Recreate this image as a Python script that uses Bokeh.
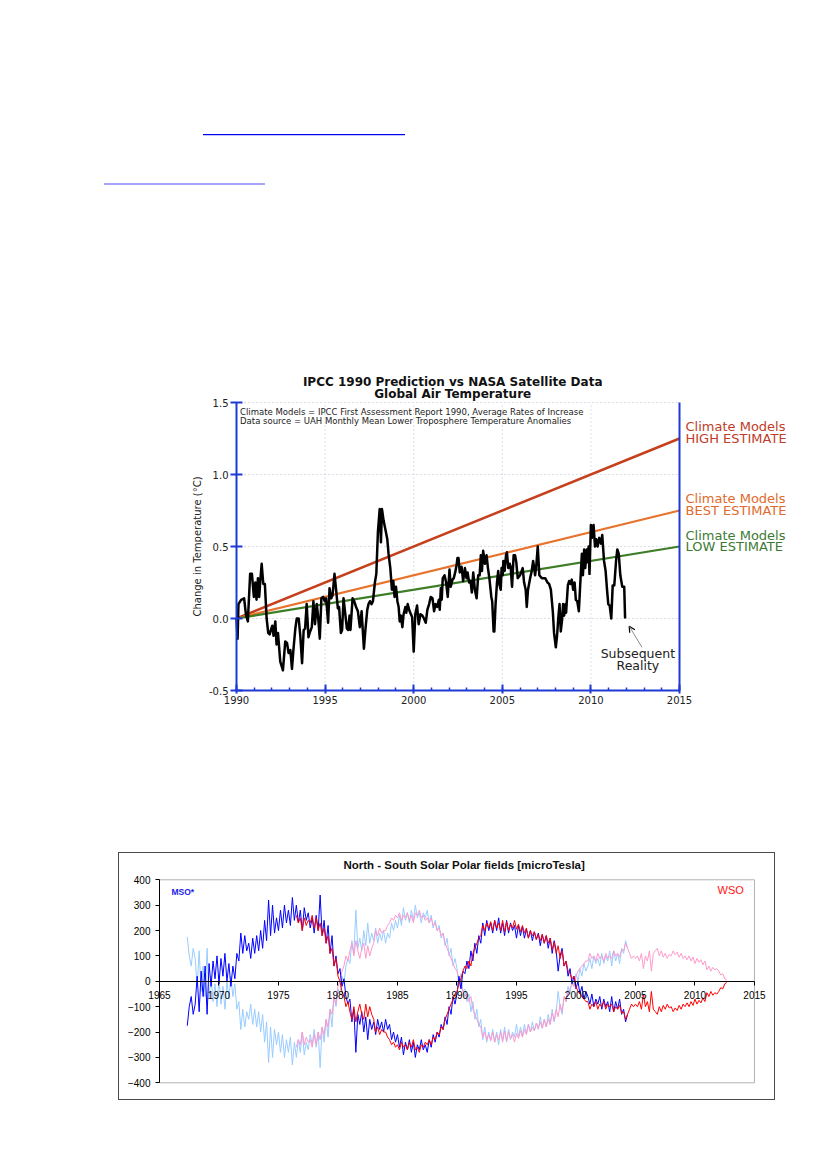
import numpy as np
from bokeh.plotting import figure
from bokeh.models import (Label, Arrow, OpenHead, FixedTicker, PrintfTickFormatter,
                          Div, Range1d, LinearAxis, Spacer)
from bokeh.layouts import column, row
from bokeh.embed import file_html
from bokeh.resources import INLINE

# ---------------- Chart 1 data: UAH lower troposphere anomalies ----------------
uah_year = [
    1990.00, 1990.06, 1990.11, 1990.26, 1990.43, 1990.53, 1990.64, 1990.77, 1990.87, 1990.98,
    1991.06, 1991.13, 1991.21, 1991.28, 1991.34, 1991.42, 1991.51, 1991.60, 1991.70, 1991.79,
    1991.87, 1991.94, 1992.02, 1992.09, 1992.19, 1992.26, 1992.34, 1992.47, 1992.62, 1992.75,
    1992.85, 1992.94, 1993.04, 1993.13, 1993.21, 1993.32, 1993.40, 1993.51, 1993.60, 1993.70,
    1993.79, 1993.87, 1993.96, 1994.06, 1994.13, 1994.25, 1994.34, 1994.43, 1994.53, 1994.60,
    1994.70, 1994.79, 1994.89, 1994.98, 1995.06, 1995.17, 1995.25, 1995.34, 1995.42, 1995.53,
    1995.62, 1995.72, 1995.79, 1995.89, 1995.96, 1996.04, 1996.13, 1996.23, 1996.30, 1996.38,
    1996.43, 1996.55, 1996.64, 1996.75, 1996.85, 1996.96, 1997.06, 1997.19, 1997.28, 1997.38,
    1997.45, 1997.53, 1997.62, 1997.70, 1997.81, 1997.89, 1997.98, 1998.08, 1998.15, 1998.21,
    1998.30, 1998.40, 1998.51, 1998.58, 1998.68, 1998.77, 1998.85, 1998.92, 1999.00, 1999.08,
    1999.15, 1999.21, 1999.28, 1999.36, 1999.43, 1999.53, 1999.58, 1999.66, 1999.77, 1999.91,
    2000.00, 2000.09, 2000.19, 2000.28, 2000.38, 2000.49, 2000.58, 2000.68, 2000.77, 2000.87,
    2000.96, 2001.06, 2001.15, 2001.23, 2001.32, 2001.42, 2001.47, 2001.53, 2001.58, 2001.64,
    2001.74, 2001.83, 2001.92, 2002.02, 2002.09, 2002.19, 2002.26, 2002.34, 2002.42, 2002.47,
    2002.53, 2002.60, 2002.70, 2002.79, 2002.89, 2002.98, 2003.04, 2003.13, 2003.21, 2003.28,
    2003.36, 2003.45, 2003.55, 2003.64, 2003.72, 2003.79, 2003.85, 2003.92, 2004.02, 2004.11,
    2004.19, 2004.28, 2004.38, 2004.43, 2004.51, 2004.55, 2004.62, 2004.70, 2004.77, 2004.83,
    2004.91, 2004.96, 2005.02, 2005.06, 2005.13, 2005.21, 2005.26, 2005.34, 2005.42, 2005.47,
    2005.55, 2005.64, 2005.72, 2005.79, 2005.87, 2006.00, 2006.15, 2006.23, 2006.32, 2006.38,
    2006.45, 2006.57, 2006.66, 2006.74, 2006.79, 2006.85, 2006.92, 2007.00, 2007.09, 2007.23,
    2007.42, 2007.55, 2007.64, 2007.74, 2007.85, 2007.92, 2008.02, 2008.09, 2008.17, 2008.23,
    2008.30, 2008.38, 2008.43, 2008.49, 2008.57, 2008.60, 2008.70, 2008.77, 2008.85, 2008.92,
    2009.00, 2009.08, 2009.15, 2009.23, 2009.32, 2009.42, 2009.49, 2009.55, 2009.62, 2009.68,
    2009.77, 2009.83, 2009.87, 2009.92, 2010.00, 2010.06, 2010.15, 2010.23, 2010.30, 2010.38,
    2010.47, 2010.57, 2010.64, 2010.74, 2010.83, 2010.91, 2010.98, 2011.06, 2011.15, 2011.23,
    2011.32, 2011.42, 2011.49, 2011.57, 2011.66, 2011.77, 2011.88, 2011.93,
]
uah_anom = [
    0.00, -0.14, 0.10, 0.13, 0.14, 0.03, -0.02, 0.31, 0.31, 0.15,
    0.25, 0.13, 0.28, 0.15, 0.26, 0.38, 0.24, 0.24, 0.00, -0.10,
    -0.11, -0.08, -0.05, -0.12, -0.02, -0.18, -0.10, -0.30, -0.36, -0.16,
    -0.17, -0.24, -0.22, -0.35, -0.22, -0.07, 0.00, 0.00, -0.12, -0.31,
    -0.08, -0.07, 0.10, -0.13, -0.10, -0.06, 0.12, -0.04, 0.10, 0.02,
    -0.14, 0.14, 0.15, 0.12, 0.14, -0.03, 0.21, 0.14, 0.16, 0.31,
    0.20, 0.07, 0.08, -0.10, -0.08, 0.14, 0.04, -0.07, -0.08, 0.02,
    -0.08, 0.14, 0.12, 0.08, 0.05, -0.06, 0.05, -0.21, -0.07, 0.06,
    0.10, 0.12, 0.10, 0.12, 0.25, 0.31, 0.60, 0.76, 0.53, 0.76,
    0.68, 0.62, 0.55, 0.45, 0.35, 0.20, 0.26, 0.15, 0.22, 0.12,
    0.08, -0.02, 0.02, -0.06, 0.03, 0.08, 0.04, 0.10, 0.05, 0.01,
    -0.23, 0.03, 0.09, -0.04, 0.03, 0.02, 0.00, -0.03, 0.06, 0.10,
    0.15, 0.14, 0.05, 0.10, 0.08, 0.13, 0.06, 0.21, 0.13, 0.28,
    0.30, 0.25, 0.15, 0.34, 0.22, 0.27, 0.28, 0.32, 0.37, 0.42,
    0.42, 0.32, 0.36, 0.26, 0.35, 0.28, 0.32, 0.25, 0.26, 0.18,
    0.32, 0.20, 0.14, 0.30, 0.30, 0.44, 0.33, 0.47, 0.38, 0.44,
    0.35, 0.27, 0.15, 0.12, -0.09, -0.09, 0.10, 0.25, 0.33, 0.24,
    0.20, 0.35, 0.30, 0.40, 0.33, 0.44, 0.46, 0.35, 0.38, 0.36,
    0.22, 0.44, 0.44, 0.39, 0.28, 0.30, 0.35, 0.25, 0.20, 0.08,
    0.20, 0.28, 0.33, 0.40, 0.36, 0.30, 0.37, 0.50, 0.30, 0.28,
    0.28, 0.25, 0.24, 0.20, 0.05, -0.10, -0.20, -0.12, 0.02, 0.10,
    -0.09, 0.00, 0.10, 0.02, 0.10, 0.04, 0.23, 0.26, 0.24, 0.27,
    0.20, 0.25, 0.13, 0.12, 0.05, 0.29, 0.45, 0.30, 0.48, 0.35,
    0.48, 0.39, 0.50, 0.31, 0.65, 0.56, 0.65, 0.50, 0.55, 0.50,
    0.56, 0.52, 0.58, 0.40, 0.33, 0.20, 0.10, 0.09, 0.00, 0.23,
    0.23, 0.40, 0.48, 0.45, 0.30, 0.22, 0.22, 0.00,
]

# IPCC 1990 model trend lines (start / end)
model_years = [1990, 2015]
high_est = [0.0, 1.25]
best_est = [0.0, 0.75]
low_est = [0.0, 0.50]

x1_ticks = [1990, 1995, 2000, 2005, 2010, 2015]
x1_minor = list(range(1990, 2016))
y1_ticks = [-0.5, 0.0, 0.5, 1.0, 1.5]
x1_grid = [1995, 2000, 2005, 2010]
y1_grid = [0.0, 0.5, 1.0, 1.5]

# ---------------- Chart 2 data: solar polar fields (6 samples / year) ----------------
mso_start = 1967 + 2 / 6
mso = [
    -175, -100, -60, -130,
    -90, 20, -120, 40, -60, 60,
    -130, 70, -20, 80, 10, 100,
    -10, 90, 20, 110, 0, 70,
    -20, 60, 10, 110, 80, 190,
    110, 180, 120, 150, 90, 170,
    110, 180, 120, 200, 130, 240,
    160, 320, 180, 300, 190, 250,
    200, 280, 210, 300, 230, 280,
    220, 330, 240, 300, 230, 280,
    200, 290, 240, 270, 210, 250,
    190, 260, 200, 340, 180, 240,
    150, 220, 110, 180, 60, 100,
    30, 50, -20, 10, -60, -90,
    -70, -160, -110, -280, -130, -170,
    -120, -200, -140, -230, -150, -190,
    -160, -210, -150, -190, -160, -200,
    -150, -190, -170, -230, -200, -240,
    -210, -260, -220, -290, -240, -270,
    -230, -280, -240, -300, -250, -270,
    -230, -270, -250, -280, -230, -260,
    -210, -240, -200, -220, -170, -190,
    -140, -170, -100, -130, -60, -90,
    -50, 20, -30, 40, 30, 80,
    50, 120, 80, 150, 110, 180,
    150, 230, 180, 240, 200, 230,
    190, 240, 200, 250, 190, 230,
    180, 240, 190, 230, 200, 220,
    170, 220, 180, 215, 170, 205,
    170, 200, 160, 195, 165, 190,
    140, 185, 150, 180, 130, 170,
    110, 160, 120, 40, 100, 130,
    60, 80, 20, 50, -10, 20,
    -30, 0, -50, -20, -70, -40,
    -60, -90, -50, -100, -70, -90,
    -60, -110, -70, -100, -80, -120,
    -60, -120, -80, -110, -70, -130,
    -110, -160, -130,
]
wso_start = 1976.5
wso = [
    260, 230, 250,
    200, 250, 220, 240, 230, 260,
    210, 250, 200, 230, 180, 210,
    150, 180, 110, 130, 60, 90,
    20, 0, -40, -60, -100, -80,
    -120, -150, -100, -160, -120, -90,
    -130, -150, -90, -140, -100, -130,
    -150, -200, -180, -210, -190, -200,
    -200, -220, -230, -250, -240, -260,
    -250, -270, -240, -260, -250, -270,
    -240, -260, -230, -270, -260, -280,
    -250, -260, -240, -250, -230, -250,
    -220, -230, -200, -210, -180, -190,
    -150, -130, -110, -90, -70, -50,
    -40, -10, 10, 40, 60, 50,
    80, 60, 110, 130, 150, 170,
    180, 220, 200, 230, 210, 235,
    200, 240, 210, 230, 200, 240,
    195, 235, 200, 225, 210, 240,
    205, 225, 195, 220, 190, 210,
    170, 200, 180, 195, 165, 185,
    160, 185, 150, 180, 150, 170,
    125, 155, 110, 140, 90, 120,
    60, 80, 40, 30, 10, 20,
    -20, -40, -50, -60, -70, -80,
    -80, -110, -90, -100, -80, -110,
    -90, -100, -80, -110, -90, -100,
    -90, -120, -100, -110, -95, -125,
    -120, -150, -130, -110, -90, -100,
    -90, -100, -80, -110, -50, -100,
    -80, -120, -40, -110, -120, -130,
    -100, -120, -95, -110, -90, -105,
    -100, -120, -105, -115, -95, -110,
    -90, -100, -85, -100, -80, -95,
    -70, -90, -75, -85, -65, -80,
    -45, -60, -40, -55, -45, -50,
    -40, -25, -30, -10, -5,
]
x2_ticks = [1965, 1970, 1975, 1980, 1985, 1990, 1995, 2000, 2005, 2010, 2015]
y2_ticks = [-400, -300, -200, -100, 0, 100, 200, 300, 400]
x2_span = (1965, 2015)
y2_span = (-400, 400)

# ================= Chart 1 =================
BLUE = "#1f3ad4"
F1 = "DejaVu Sans"
HIGH_C, HIGH_T = "#c5401c", "#c03c28"
BEST_C, BEST_T = "#e8732c", "#e06a2c"
LOW_C, LOW_T = "#3d7d26", "#3d7a35"

# whole canvas is the frame; ranges extended so that titles and side labels fit inside it
p1 = figure(width=630, height=346,
            x_range=Range1d(1986.783, 2022.336), y_range=Range1d(-0.6736, 1.7292),
            output_backend="svg", toolbar_location=None, title=None,
            x_axis_location=None, y_axis_location=None,
            min_border_left=0, min_border_right=0, min_border_top=0, min_border_bottom=0)
p1.outline_line_color = None
p1.xgrid.visible = False
p1.ygrid.visible = False

# dotted grid limited to the plotting box
p1.segment(x0=x1_grid, y0=[-0.5] * len(x1_grid), x1=x1_grid, y1=[1.5] * len(x1_grid),
           line_color="#b9bdd2", line_dash="1 3", line_width=1)
p1.segment(x0=[1990] * len(y1_grid), y0=y1_grid, x1=[2015] * len(y1_grid), y1=y1_grid,
           line_color="#b9bdd2", line_dash="1 3", line_width=1)

xax = LinearAxis(fixed_location=-0.5, bounds=(1990, 2015),
                 ticker=FixedTicker(ticks=x1_ticks, minor_ticks=x1_minor))
yax = LinearAxis(fixed_location=1990, bounds=(-0.5, 1.5),
                 ticker=FixedTicker(ticks=y1_ticks), formatter=PrintfTickFormatter(format="%.1f"))
rax = LinearAxis(fixed_location=2015, bounds=(-0.5, 1.5), ticker=FixedTicker(ticks=[]),
                 major_label_text_color=None)
for ax in (xax, yax, rax):
    ax.axis_line_color = BLUE
    ax.axis_line_width = 2
    ax.major_tick_line_color = BLUE
    ax.major_tick_line_width = 2
    ax.minor_tick_line_color = BLUE
    ax.minor_tick_line_width = 1.5
    ax.major_label_text_font = F1
    ax.major_label_text_font_size = "10px"
    ax.major_label_text_color = "#222222"
xax.major_tick_in = 6
xax.major_tick_out = 3
xax.minor_tick_in = 3
xax.minor_tick_out = 0
xax.major_label_standoff = 2
yax.major_tick_in = 6
yax.major_tick_out = 6
yax.minor_tick_line_color = None
yax.major_label_standoff = 2
yax.axis_label = "Change in Temperature (°C)"
yax.axis_label_text_font = F1
yax.axis_label_text_font_style = "normal"
yax.axis_label_text_font_size = "10px"
yax.axis_label_text_color = "#222222"
yax.axis_label_standoff = 3
rax.major_tick_line_color = None
rax.minor_tick_line_color = None
p1.add_layout(xax, "below")
p1.add_layout(yax, "left")
p1.add_layout(rax, "right")

p1.line(model_years, high_est, line_color=HIGH_C, line_width=2.5)
p1.line(model_years, best_est, line_color=BEST_C, line_width=2.2)
p1.line(model_years, low_est, line_color=LOW_C, line_width=2.2)
p1.line(uah_year, uah_anom, line_color="black", line_width=2.5, line_join="round")

title_lines = ["IPCC 1990 Prediction vs NASA Satellite Data", "Global Air Temperature"]
for txt, yy in zip(title_lines, [1.641, 1.556]):
    p1.add_layout(Label(x=2002.2, y=yy, text=txt, text_font=F1,
                        text_font_style="bold", text_font_size="12px", text_align="center",
                        text_baseline="middle", text_color="#111111"))

notes = ["Climate Models = IPCC First Assessment Report 1990, Average Rates of Increase",
         "Data source = UAH Monthly Mean Lower Troposphere Temperature Anomalies"]
for txt, yy in zip(notes, [1.433, 1.375]):
    p1.add_layout(Label(x=1990.2, y=yy, text=txt, text_font=F1, text_font_size="8.5px",
                        text_baseline="middle", text_color="#222222"))

side = [("Climate Models", 1.335, HIGH_T), ("HIGH ESTIMATE", 1.248, HIGH_T),
        ("Climate Models", 0.831, BEST_T), ("BEST ESTIMATE", 0.750, BEST_T),
        ("Climate Models", 0.576, LOW_T), ("LOW ESTIMATE", 0.498, LOW_T)]
for txt, yy, col in side:
    p1.add_layout(Label(x=2015, y=yy, x_offset=6, text=txt, text_font=F1,
                        text_font_size="13px", text_baseline="middle", text_color=col))

for txt, yy in [("Subsequent", -0.243), ("Reality", -0.326)]:
    p1.add_layout(Label(x=2012.65, y=yy, text=txt, text_font=F1, text_font_size="12.5px",
                        text_align="center", text_baseline="middle", text_color="#222222"))
p1.add_layout(Arrow(end=OpenHead(size=6, line_color="black", line_width=1.2),
                    x_start=2012.88, y_start=-0.20, x_end=2012.16, y_end=-0.053,
                    line_color="#8a8a8a", line_width=1))

# ================= Chart 2 =================
F2 = "Liberation Sans"
p2 = figure(width=657, height=248,
            x_range=Range1d(1961.639, 2016.849), y_range=Range1d(-473.7, 503.6),
            output_backend="svg", toolbar_location=None, title=None,
            x_axis_location=None, y_axis_location=None,
            min_border_left=0, min_border_right=0, min_border_top=0, min_border_bottom=0,
            styles={"border": "1px solid #4a4a4a"})
p2.outline_line_color = None
p2.xgrid.visible = False
p2.ygrid.visible = False

# plotting-area box
p2.quad(left=[x2_span[0]], right=[x2_span[1]], bottom=[y2_span[0]], top=[y2_span[1]],
        fill_color=None, line_color="#b4b4b4", line_width=1)

mso_x = mso_start + np.arange(len(mso)) / 6.0
wso_x = wso_start + np.arange(len(wso)) / 6.0
mso_v = np.array(mso, dtype=float)
wso_v = np.array(wso, dtype=float)

p2.line(mso_x, -mso_v, line_color="#99ccff", line_width=1)
p2.line(wso_x, -wso_v, line_color="#ff99cc", line_width=1)
p2.line(mso_x, mso_v, line_color="#0000ff", line_width=1)
p2.line(wso_x, wso_v, line_color="#ff0000", line_width=1)

xax2 = LinearAxis(fixed_location=0, bounds=x2_span, ticker=FixedTicker(ticks=x2_ticks))
yax2 = LinearAxis(fixed_location=x2_span[0], bounds=y2_span, ticker=FixedTicker(ticks=y2_ticks))
for ax in (xax2, yax2):
    ax.axis_line_color = "black"
    ax.axis_line_width = 1
    ax.major_tick_line_color = "black"
    ax.minor_tick_line_color = None
    ax.major_tick_in = 0
    ax.major_tick_out = 4
    ax.major_label_text_font = F2
    ax.major_label_text_font_size = "10px"
    ax.major_label_text_color = "black"
xax2.major_label_standoff = 6
yax2.major_label_standoff = 5
p2.add_layout(xax2, "below")
p2.add_layout(yax2, "left")

p2.add_layout(Label(x=1990.6, y=459, text="North - South Solar Polar fields [microTesla]",
                    text_font=F2, text_font_style="bold", text_font_size="11.5px",
                    text_align="center", text_baseline="middle", text_color="#111111"))
p2.add_layout(Label(x=1966.0, y=351, text="MSO*", text_font=F2, text_font_style="bold",
                    text_font_size="8.5px", text_baseline="middle", text_color="#2222ee"))
p2.add_layout(Label(x=2011.9, y=361, text="WSO", text_font=F2,
                    text_font_size="11px", text_baseline="middle", text_color="#ff1010"))

# ================= Page =================
top = Div(text=(
    '<div style="position:relative;width:811px;height:359px;">'
    '<div style="position:absolute;left:198px;top:129px;width:202px;height:0;'
    'border-top:1px solid #0000ee;border-bottom:1px solid #c4c4ff;"></div>'
    '<div style="position:absolute;left:99px;top:178px;width:161px;height:0;'
    'border-top:2px solid #a4a4ff;"></div></div>'), width=811, height=359)

layout = column(top,
                row(Spacer(width=179, height=346), p1),
                Spacer(width=10, height=137),
                row(Spacer(width=118, height=250), p2))
open("out.html", "w").write(file_html(layout, INLINE))
